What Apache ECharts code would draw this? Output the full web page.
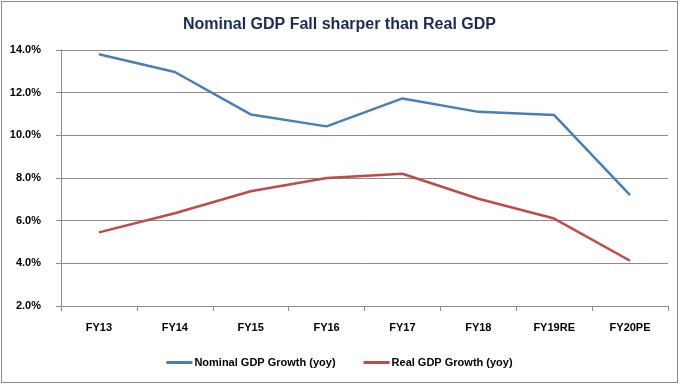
<!DOCTYPE html>
<html>
<head>
<meta charset="utf-8">
<script src="https://cdn.jsdelivr.net/npm/echarts@6/dist/echarts.min.js"></script>
<style>
html,body{margin:0;padding:0;background:#fff;}
#frame{position:absolute;left:1px;top:1px;width:675px;height:380px;border:1px solid #8c8c8c;}
#c{position:absolute;left:0;top:0;width:679px;height:384px;}
</style>
</head>
<body>
<div id="frame"></div>
<div id="c"></div>
<script>
const categories = ['FY13','FY14','FY15','FY16','FY17','FY18','FY19RE','FY20PE'];
const nominalGrowth = [13.8, 12.97, 10.98, 10.42, 11.73, 11.1, 10.95, 7.2];
const realGrowth = [5.45, 6.35, 7.38, 8.0, 8.2, 7.03, 6.1, 4.12];
const seriesNames = ['Nominal GDP Growth (yoy)', 'Real GDP Growth (yoy)'];
const titleText = 'Nominal GDP Fall sharper than Real GDP';

const chart = echarts.init(document.getElementById('c'), null, {renderer:'canvas'});
const fontFam = '"Liberation Sans", Arial, sans-serif';
chart.setOption({
  animation: false,
  backgroundColor: 'transparent',
  title: {
    text: titleText, left: 'center', top: 12,
    textStyle: {fontFamily: fontFam, fontWeight: 'bold', fontSize: 16, color: '#1b2a5c'}
  },
  grid: {left: 61, right: 11, top: 50, bottom: 78, containLabel: false},
  legend: {
    bottom: 11, left: 'center',
    itemWidth: 26, itemHeight: 3, itemGap: 28, icon: 'rect',
    textStyle: {fontFamily: fontFam, fontWeight: 'bold', fontSize: 11, color: '#000', padding:[0,0,0,-3]},
    data: seriesNames
  },
  xAxis: {
    type: 'category', data: categories, boundaryGap: true,
    axisLine: {lineStyle: {color: '#8c8c8c', width: 1}},
    axisTick: {show: true, length: 5, lineStyle: {color: '#8c8c8c'}},
    axisLabel: {fontFamily: fontFam, fontWeight: 'bold', fontSize: 11, color: '#000', margin: 16}
  },
  yAxis: {
    type: 'value', min: 2, max: 14, interval: 2,
    axisLine: {show: true, lineStyle: {color: '#8c8c8c', width: 1}},
    axisTick: {show: true, length: 5, lineStyle: {color: '#8c8c8c'}},
    splitLine: {lineStyle: {color: '#8c8c8c', width: 1}},
    axisLabel: {fontFamily: fontFam, fontWeight: 'bold', fontSize: 11, color: '#000', margin: 20,
      formatter: v => v.toFixed(1) + '%'}
  },
  series: [
    {name: seriesNames[0], type: 'line', data: nominalGrowth, symbol: 'none',
     lineStyle: {color: '#4a7ebb', width: 2.5}, itemStyle: {color: '#4a7ebb'}},
    {name: seriesNames[1], type: 'line', data: realGrowth, symbol: 'none',
     lineStyle: {color: '#be4b48', width: 2.5}, itemStyle: {color: '#be4b48'}}
  ]
});
</script>
</body>
</html>
